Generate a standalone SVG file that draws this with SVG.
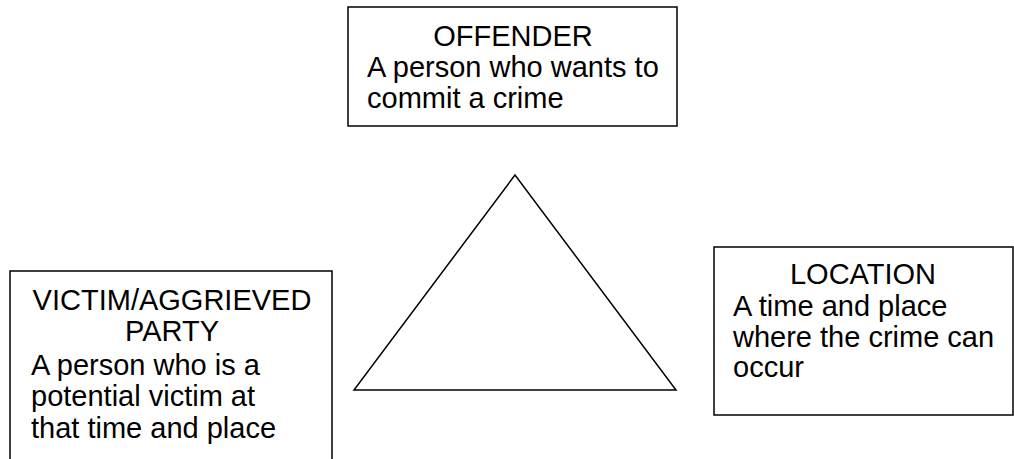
<svg xmlns="http://www.w3.org/2000/svg" width="1014" height="459" viewBox="0 0 1014 459">
<style>
.box{fill:#fff;stroke:#000;stroke-width:1.5}
.t{font-family:"Liberation Sans",Arial,sans-serif;font-size:29px;fill:#000}
.c{text-anchor:middle}
</style>
<rect width="1014" height="459" fill="#fff"/>
<g id="connectors">
<polygon points="515,175 354,390 676,390" fill="none" stroke="#000" stroke-width="1.5"/>
</g>
<g id="offender">
<rect class="box" x="348" y="7" width="329" height="119"/>
<text class="t c" x="513" y="46">OFFENDER</text>
<text class="t" x="367" y="77">A person who wants to</text>
<text class="t" x="367" y="108">commit a crime</text>
</g>
<g id="victim">
<rect class="box" x="10" y="271" width="322" height="200"/>
<text class="t c" x="172" y="310">VICTIM/AGGRIEVED</text>
<text class="t c" x="172" y="341">PARTY</text>
<text class="t" x="31" y="375">A person who is a</text>
<text class="t" x="31" y="406">potential victim at</text>
<text class="t" x="31" y="438">that time and place</text>
</g>
<g id="location">
<rect class="box" x="714" y="247" width="299" height="168"/>
<text class="t c" x="863" y="284">LOCATION</text>
<text class="t" x="733" y="316">A time and place</text>
<text class="t" x="733" y="347">where the crime can</text>
<text class="t" x="733" y="377">occur</text>
</g>
</svg>
